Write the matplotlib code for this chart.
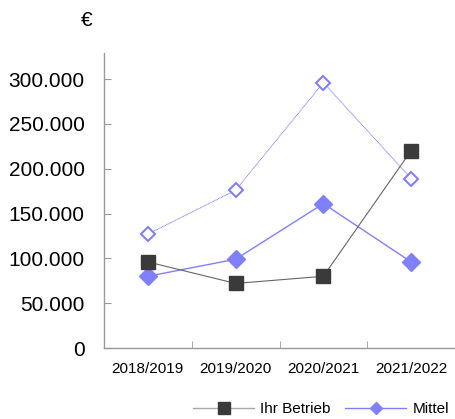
import matplotlib
matplotlib.use("Agg")
import matplotlib.pyplot as plt
from matplotlib.lines import Line2D
import numpy as np

plt.rcParams['font.family'] = ['Liberation Sans', 'DejaVu Sans']

categories = ["2018/2019", "2019/2020", "2020/2021", "2021/2022"]
ihr_betrieb = [96000, 72000, 80000, 220000]
mittel = [80000, 99000, 161000, 96000]
oberes = [127000, 176000, 296000, 189000]
yticks = [0, 50000, 100000, 150000, 200000, 250000, 300000]
ytick_labels = ["0", "50.000", "100.000", "150.000", "200.000", "250.000", "300.000"]

fig = plt.figure(figsize=(4.55, 4.19), dpi=100)
ax = fig.add_axes([104/455, 1-348/419, 351/455, (348-53)/419])

x = np.arange(len(categories))
blue = "#8080ff"
ax.plot(x, oberes, color=blue, lw=0.7, linestyle=(0, (1, 0.5)), marker='D',
        markersize=7.5, markerfacecolor='white', markeredgecolor=blue, markeredgewidth=1.5, zorder=3)
ax.plot(x, mittel, color=blue, lw=1.0, marker='D', markersize=9,
        markerfacecolor=blue, markeredgecolor=blue, zorder=3)
ax.plot(x, ihr_betrieb, color="#666666", lw=0.8, marker='s', markersize=10,
        markerfacecolor="#3a3a3a", markeredgecolor="#3a3a3a", zorder=4)

ax.set_xlim(-0.5, len(categories) - 0.5)
ax.set_ylim(0, 329000)
ax.set_xticks(x)
ax.set_xticklabels(categories, fontsize=11)
ax.set_xticks(np.arange(len(categories) + 1) - 0.5, minor=True)
ax.tick_params(axis='x', which='major', length=0, pad=10)
ax.tick_params(axis='x', which='minor', direction='in', length=5, color='#999999')
ax.set_yticks(yticks)
ax.set_yticklabels(ytick_labels, fontsize=15)
ax.tick_params(axis='y', direction='in', length=5, color='#999999', pad=14)

for s in ['top', 'right']:
    ax.spines[s].set_visible(False)
for s in ['left', 'bottom']:
    ax.spines[s].set_color('#999999')
    ax.spines[s].set_linewidth(1.0)

fig.text(87/455, 1-20/419, "€", fontsize=15, ha='center', va='center')

handles = [
    Line2D([], [], color="#aaaaaa", lw=1.0, marker='s', markersize=8,
           markerfacecolor="#3a3a3a", markeredgecolor="#3a3a3a"),
    Line2D([], [], color=blue, lw=1.0, marker='D', markersize=6,
           markerfacecolor=blue, markeredgecolor=blue),
]
fig.legend(handles, ["Ihr Betrieb", "Mittel"], loc='center left',
           bbox_to_anchor=(193/455, 1-409/419), ncol=2, frameon=False,
           fontsize=11, handlelength=4.0, handletextpad=0.4, columnspacing=0.95,
           borderpad=0, borderaxespad=0)

fig.savefig("out.png", dpi=100)
